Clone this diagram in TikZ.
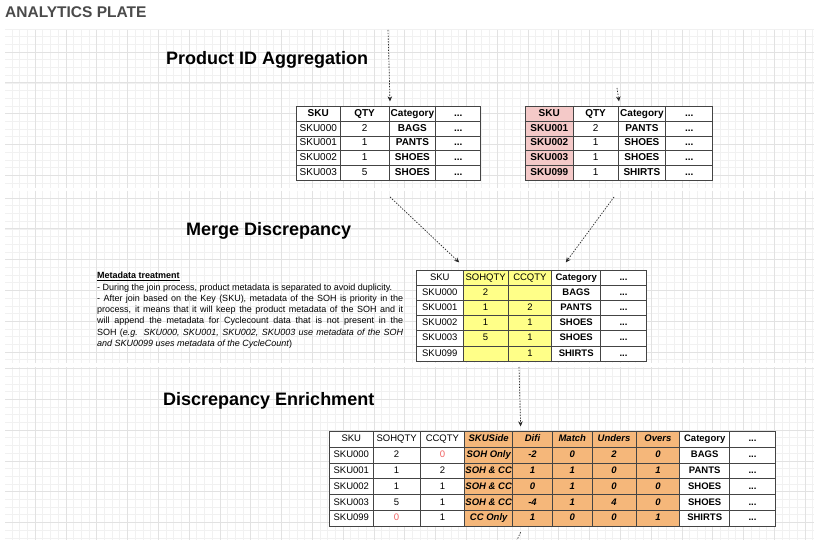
\documentclass[tikz,border=0pt]{standalone}
\usepackage{fontspec}
\setmainfont{Liberation Sans}
\usetikzlibrary{positioning, arrows.meta, calc, matrix}
\definecolor{gridminor}{HTML}{F1F1F1}
\definecolor{gridmajor}{HTML}{E2E2E2}
\definecolor{skupink}{HTML}{F4C9C8}
\definecolor{qtyyellow}{HTML}{FFFF88}
\definecolor{discorange}{HTML}{F5B77A}
\definecolor{zerored}{HTML}{F06262}
\definecolor{titlegray}{HTML}{4A4A4A}
\definecolor{cellborder}{HTML}{444444}

\newcommand\tablefont{\fontsize{10}{11.5}\selectfont}
\newcommand\enrichfont{\fontsize{9.5}{11}\selectfont}
\newcommand\headfont{\fontsize{18}{20}\selectfont\bfseries}

% one grid panel: top, bottom, first major line (y)
\newcommand\gridpanel[3]{%
  \begin{scope}
    \clip (5,#1) rectangle (814,#2);
    \fill[white] (5,#1) rectangle (814,#2);
    \foreach \k in {0,...,106} {
      \pgfmathsetmacro\gx{4.2+7.7*\k}
      \draw[gridminor, line width=0.5pt] (\gx,#1) -- (\gx,#2);
    }
    \foreach \k in {0,...,26} {
      \pgfmathsetmacro\gy{#3+7.7*\k}
      \draw[gridminor, line width=0.5pt] (5,\gy) -- (814,\gy);
    }
    \foreach \k in {0,...,27} {
      \pgfmathsetmacro\gx{4.2+30.8*\k}
      \draw[gridmajor, line width=0.6pt] (\gx,#1) -- (\gx,#2);
    }
    \foreach \k in {0,...,6} {
      \pgfmathsetmacro\gy{#3+30.8*\k}
      \draw[gridmajor, line width=0.6pt] (5,\gy) -- (814,\gy);
    }
  \end{scope}}

\tikzset{
  datatable/.style={matrix of nodes, anchor=north west, inner sep=0pt, outer sep=0pt,
    column sep=-0.8pt, row sep=-0.8pt,
    nodes={draw=cellborder, line width=0.8pt, inner sep=0pt, fill=white, anchor=center,
      text height=7.1, text depth=2}},
  flowarrow/.style={draw=black!85, line width=0.7pt, dash pattern=on 1.4pt off 1.4pt,
    -{Stealth[length=5pt, width=4.5pt]}},
  flowline/.style={draw=black!85, line width=0.7pt, dash pattern=on 1.4pt off 1.4pt},
  stagetitle/.style={anchor=west, font=\headfont, inner sep=0pt}
}

\begin{document}
\begin{tikzpicture}[x=1pt, y=-1pt]
  \useasboundingbox (0,0) rectangle (814,540);
  \fill[white] (0,0) rectangle (814,540);

  \node[anchor=west, inner sep=0pt, text=titlegray, font=\fontsize{15.5}{17}\selectfont\bfseries]
    (platetitle) at (5,12) {ANALYTICS PLATE};

  % panels
  \gridpanel{30}{188}{21.2}
  \gridpanel{191}{363}{198}
  \gridpanel{367}{540}{368.4}

  %% Product ID Aggregation
  \node[stagetitle] (aggtitle) at (166,60) {Product ID Aggregation};

  \matrix (sohtbl) [datatable, font=\tablefont,
    nodes={minimum height=14.8},
    row 1/.style={nodes={font=\tablefont\bfseries}},
    column 1/.style={nodes={minimum width=43.8}},
    column 2/.style={nodes={minimum width=48.8}},
    column 3/.style={nodes={minimum width=46.8, font=\tablefont\bfseries}},
    column 4/.style={nodes={minimum width=44.8, font=\tablefont\bfseries}}] at (296,106) {
    SKU & QTY & Category & ... \\
    SKU000 & 2 & BAGS & ... \\
    SKU001 & 1 & PANTS & ... \\
    SKU002 & 1 & SHOES & ... \\
    SKU003 & 5 & SHOES & ... \\
  };

  \matrix (cctbl) [datatable, font=\tablefont,
    nodes={minimum height=14.8},
    row 1/.style={nodes={font=\tablefont\bfseries}},
    column 1/.style={nodes={minimum width=47.8, fill=skupink, font=\tablefont\bfseries}},
    column 2/.style={nodes={minimum width=44.8}},
    column 3/.style={nodes={minimum width=47.8, font=\tablefont\bfseries}},
    column 4/.style={nodes={minimum width=46.8, font=\tablefont\bfseries}}] at (525,106) {
    SKU & QTY & Category & ... \\
    SKU001 & 2 & PANTS & ... \\
    SKU002 & 1 & SHOES & ... \\
    SKU003 & 1 & SHOES & ... \\
    SKU099 & 1 & SHIRTS & ... \\
  };

  \coordinate (sohin) at (388,30);
  \coordinate (ccin) at (617,88);
  \draw[flowarrow] (sohin) -- ($(sohtbl-1-3.north west)+(1,-5)$);
  \draw[flowarrow] (ccin) -- ($(cctbl-1-3.north west)+(1,-5)$);

  %% Merge Discrepancy
  \node[stagetitle] (mergetitle) at (186,231) {Merge Discrepancy};

  \node[anchor=north west, inner sep=0pt, text width=306, align=justify,
    font=\fontsize{9}{11.3}\selectfont] (metanote) at (97,272) {%
    \underline{\textbf{Metadata treatment}}\\
    - During the join process, product metadata is separated to avoid duplicity.\\
    - After join based on the Key (SKU), metadata of the SOH is priority in the\linebreak
    process, it means that it will keep the product metadata of the SOH and it\linebreak
    will append the metadata for Cyclecount data that is not present in the\linebreak
    SOH (\textit{e.g. SKU000, SKU001, SKU002, SKU003 use metadata of the SOH}\linebreak
    \textit{and SKU0099 uses metadata of the CycleCount})};

  \matrix (mergetbl) [datatable, font=\enrichfont, nodes in empty cells,
    nodes={minimum height=15.1},
    column 1/.style={nodes={minimum width=46.8}},
    column 2/.style={nodes={minimum width=44.8, fill=qtyyellow}},
    column 3/.style={nodes={minimum width=43.8, fill=qtyyellow}},
    column 4/.style={nodes={minimum width=48.8, font=\enrichfont\bfseries}},
    column 5/.style={nodes={minimum width=45.8, font=\enrichfont\bfseries}}] at (416,270) {
    SKU & SOHQTY & CCQTY & Category & ... \\
    SKU000 & 2 & & BAGS & ... \\
    SKU001 & 1 & 2 & PANTS & ... \\
    SKU002 & 1 & 1 & SHOES & ... \\
    SKU003 & 5 & 1 & SHOES & ... \\
    SKU099 & & 1 & SHIRTS & ... \\
  };

  \coordinate (mergeinsoh) at (390,197);
  \coordinate (mergeincc) at (614,197);
  \draw[flowarrow] (mergeinsoh) -- ($(mergetbl-1-2.north west)+(-4,-8)$);
  \draw[flowarrow] (mergeincc) -- ($(mergetbl-1-4.north west)+(14,-8)$);

  %% Discrepancy Enrichment
  \node[stagetitle] (enrichtitle) at (163,401) {Discrepancy Enrichment};

  \matrix (enrichtbl) [datatable, font=\enrichfont,
    nodes={minimum height=15.8},
    column 1/.style={nodes={minimum width=43.8}},
    column 2/.style={nodes={minimum width=46.8}},
    column 3/.style={nodes={minimum width=44.8}},
    column 4/.style={nodes={minimum width=47.8, fill=discorange, font=\enrichfont\bfseries\itshape}},
    column 5/.style={nodes={minimum width=39.8, fill=discorange, font=\enrichfont\bfseries\itshape}},
    column 6/.style={nodes={minimum width=39.8, fill=discorange, font=\enrichfont\bfseries\itshape}},
    column 7/.style={nodes={minimum width=43.8, fill=discorange, font=\enrichfont\bfseries\itshape}},
    column 8/.style={nodes={minimum width=43.8, fill=discorange, font=\enrichfont\bfseries\itshape}},
    column 9/.style={nodes={minimum width=49.8, font=\enrichfont\bfseries}},
    column 10/.style={nodes={minimum width=45.8, font=\enrichfont\bfseries}}] at (329,431) {
    SKU & SOHQTY & CCQTY & SKUSide & Difi & Match & Unders & Overs & Category & ... \\
    SKU000 & 2 & |[text=zerored]| 0 & SOH Only & -2 & 0 & 2 & 0 & BAGS & ... \\
    SKU001 & 1 & 2 & SOH \& CC & 1 & 1 & 0 & 1 & PANTS & ... \\
    SKU002 & 1 & 1 & SOH \& CC & 0 & 1 & 0 & 0 & SHOES & ... \\
    SKU003 & 5 & 1 & SOH \& CC & -4 & 1 & 4 & 0 & SHOES & ... \\
    SKU099 & |[text=zerored]| 0 & 1 & CC Only & 1 & 0 & 0 & 1 & SHIRTS & ... \\
  };

  \coordinate (enrichout) at (517,540);
  \draw[flowarrow] ($(mergetbl-6-3.south west)+(11,6)$) -- ($(enrichtbl-1-5.north west)+(8,-5)$);
  \draw[flowline] ($(enrichtbl-6-5.south west)+(8,6)$) -- (enrichout);
\end{tikzpicture}
\end{document}
